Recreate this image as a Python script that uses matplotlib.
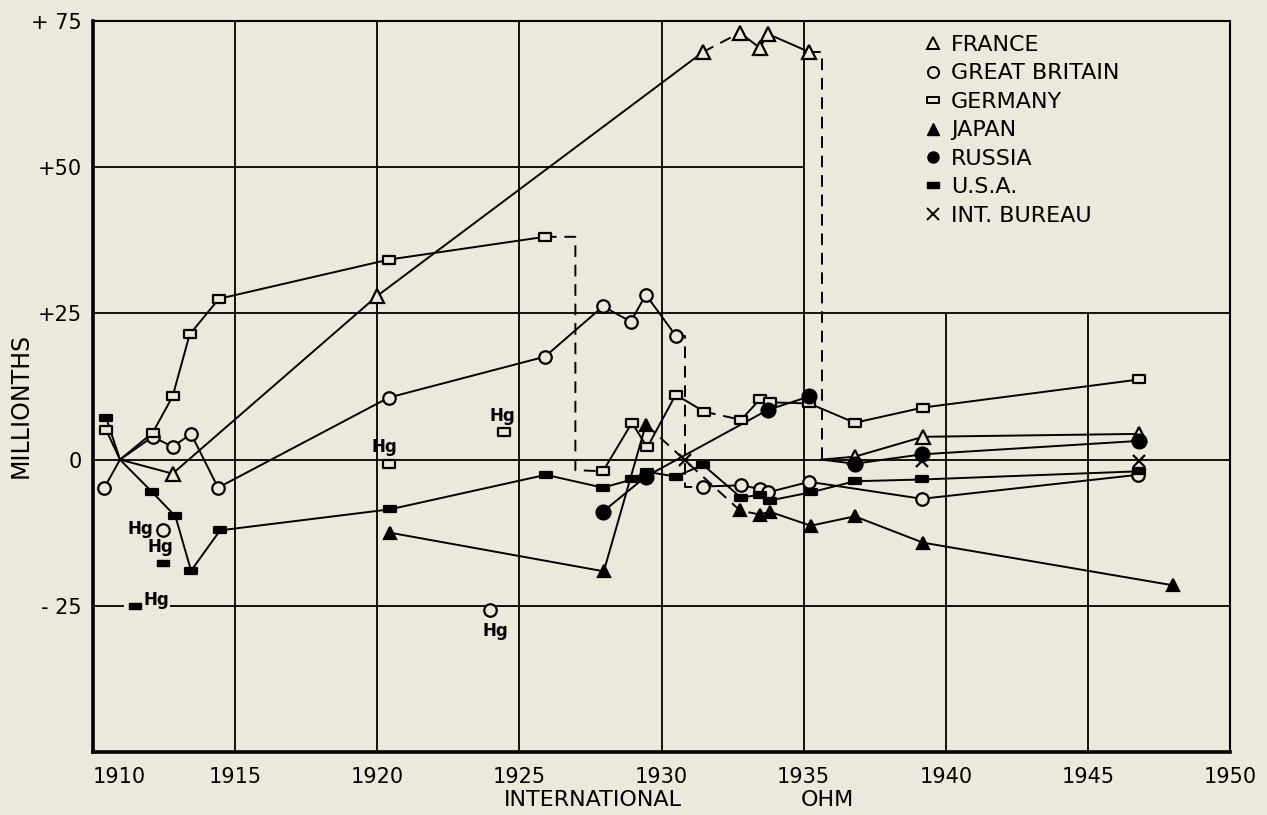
import matplotlib
matplotlib.use("Agg")
import matplotlib.pyplot as plt
import numpy as np
from matplotlib.lines import Line2D
from matplotlib.path import Path

# ---- data (millionths vs year) ----
# segment styles: '-' solid, '--' dashed, per segment between consecutive points
france_x = [1910.95, 1912.8, 1920.0, 1931.46, 1932.76, 1933.46, 1933.74, 1935.2, 1935.63, 1935.63, 1936.8, 1939.2, 1946.8]
france_y = [0, -2.4, 28.0, 69.7, 73.0, 70.4, 72.8, 69.7, 69.7, 0, 0.5, 3.9, 4.4]
france_seg = ['-', '-', '-', '--', '-', '-', '-', '--', '--', '-', '-', '-']
france_mark = [0, 1, 1, 1, 1, 1, 1, 1, 0, 0, 1, 1, 1]

britain_x = [1910.4, 1910.95, 1912.1, 1912.8, 1913.45, 1914.4, 1920.4, 1925.9, 1927.94, 1928.92, 1929.45, 1930.5,
             1930.81, 1930.81, 1931.46, 1932.8, 1933.46, 1933.74, 1935.2, 1939.16, 1946.76]
britain_y = [-4.8, 0, 3.9, 2.2, 4.4, -4.8, 10.6, 17.6, 26.2, 23.6, 28.2, 21.2,
             21.2, -4.6, -4.6, -4.4, -5.0, -5.6, -3.8, -6.7, -2.6]
britain_seg = ['-'] * 11 + ['--', '--', '--'] + ['-'] * 6
britain_mark = [1, 0, 1, 1, 1, 1, 1, 1, 1, 1, 1, 1, 0, 0, 1, 1, 1, 1, 1, 1, 1]

germany_x = [1910.46, 1910.95, 1912.1, 1912.8, 1913.4, 1914.43, 1920.4, 1925.9, 1926.97, 1926.97, 1927.94,
             1928.96, 1929.5, 1930.5, 1931.5, 1932.8, 1933.46, 1933.8, 1935.2, 1936.8, 1939.2, 1946.8]
germany_y = [5.1, 0, 4.6, 10.8, 21.4, 27.5, 34.2, 38.1, 38.1, -1.8, -2.0,
             6.3, 2.1, 11.1, 8.2, 6.8, 10.3, 9.8, 9.6, 6.3, 8.9, 13.7]
germany_seg = ['-'] * 7 + ['--', '--', '--'] + ['-', '-', '-', '-', '--'] + ['-'] * 6
germany_mark = [1, 0, 1, 1, 1, 1, 1, 1, 0, 0, 1, 1, 1, 1, 1, 1, 1, 1, 1, 1, 1, 1]

japan_x = [1920.45, 1927.97, 1929.45, 1932.76, 1933.46, 1933.8, 1935.25, 1936.8, 1939.2, 1948.0]
japan_y = [-12.5, -19.1, 6.0, -8.7, -9.4, -8.9, -11.3, -9.7, -14.2, -21.5]
japan_seg = ['-', '-', '--', '--', '-', '-', '-', '-', '-']
japan_mark = [1] * 10

russia_x = [1927.94, 1929.45, 1933.74, 1935.2, 1935.63, 1936.8, 1939.16, 1946.8]
russia_y = [-8.9, -2.9, 8.5, 10.8, 0, -0.7, 0.9, 3.2]
russia_seg = ['-', '-', '-', '', '-', '-', '-']
russia_mark = [1, 1, 1, 1, 0, 1, 1, 1]

usa_x = [1910.46, 1910.95, 1912.07, 1912.9, 1913.45, 1914.47, 1920.45, 1925.93, 1927.94, 1928.96, 1929.5,
         1930.5, 1931.46, 1932.8, 1933.46, 1933.8, 1935.25, 1936.8, 1939.16, 1946.8]
usa_y = [7.2, 0, -5.5, -9.7, -19.0, -12.1, -8.5, -2.6, -4.8, -3.4, -2.1,
         -2.9, -0.9, -6.5, -6.0, -7.0, -5.6, -3.7, -3.4, -2.0]
usa_seg = ['-'] * 19
usa_mark = [1, 0] + [1] * 18

bureau_x = [1930.81, 1939.16, 1946.8]
bureau_y = [0, -0.3, -0.3]

# mercury standard points (labelled "Hg")
hg_britain_x = [1912.46, 1923.96]
hg_britain_y = [-12.1, -25.8]
hg_usa_x = [1912.46, 1911.48]
hg_usa_y = [-17.6, -25.0]
hg_germany_x = [1920.4, 1924.46]
hg_germany_y = [-0.7, 4.8]

legend_names = ["FRANCE", "GREAT BRITAIN", "GERMANY", "JAPAN", "RUSSIA", "U.S.A.", "INT. BUREAU"]
x_ticks = [1910, 1915, 1920, 1925, 1930, 1935, 1940, 1945, 1950]
y_ticks = [-25, 0, 25, 50, 75]
y_tick_labels = ["- 25", "0", "+25", "+50", "+ 75"]

BG = "#ece8dc"
LW = 1.4
rect = Path([(-1, -0.6), (1, -0.6), (1, 0.6), (-1, 0.6), (-1, -0.6)],
            [Path.MOVETO, Path.LINETO, Path.LINETO, Path.LINETO, Path.CLOSEPOLY])

fig = plt.figure(figsize=(12.67, 8.15), dpi=100, facecolor=BG)
ax = fig.add_axes([0.0734, 0.0773, 0.8974, 0.8969], facecolor=BG)
ax.set_xlim(1910, 1950)
ax.set_ylim(-50, 75)

# grid (legend corner left clear, as in the original)
for yr in [1915, 1920, 1925, 1930, 1935]:
    ax.axvline(yr, color="k", lw=1.3, zorder=1)
ax.vlines([1940, 1945], -50, 25, color="k", lw=1.3, zorder=1)
ax.hlines(50, 1910, 1935, color="k", lw=1.3, zorder=1)
ax.hlines([25, 0], 1910, 1950, color="k", lw=1.3, zorder=1)
ax.hlines([-25, -25], [1910, 1912.7], [1911.1, 1950], color="k", lw=1.3, zorder=1)

for side in ["left", "bottom"]:
    ax.spines[side].set_linewidth(2.6)
for side in ["top", "right"]:
    ax.spines[side].set_linewidth(1.5)


def draw(x, y, seg, mark, marker, ms, filled):
    x = np.array(x)
    y = np.array(y)
    # join consecutive segments of same style so dashes run round corners
    i = 0
    while i < len(seg):
        j = i
        while j + 1 < len(seg) and seg[j + 1] == seg[i]:
            j += 1
        if seg[i] == '-':
            ax.plot(x[i:j + 2], y[i:j + 2], color="k", lw=LW, zorder=2)
        elif seg[i] == '--':
            ax.plot(x[i:j + 2], y[i:j + 2], color="k", lw=LW, ls=(0, (6, 4)), zorder=2)
        i = j + 1
    m = np.array(mark, dtype=bool)
    ax.plot(x[m], y[m], ls="none", marker=marker, ms=ms, mec="k", mew=1.6,
            mfc="k" if filled else BG, zorder=3)


draw(france_x, france_y, france_seg, france_mark, "^", 10, False)
draw(britain_x, britain_y, britain_seg, britain_mark, "o", 9, False)
draw(germany_x, germany_y, germany_seg, germany_mark, rect, 9, False)
draw(japan_x, japan_y, japan_seg, japan_mark, "^", 9, True)
draw(russia_x, russia_y, russia_seg, russia_mark, "o", 10, True)
draw(usa_x, usa_y, usa_seg, usa_mark, rect, 8, True)
ax.plot(bureau_x, bureau_y, ls="none", marker="x", ms=9, mew=1.6, color="k", zorder=3)

ax.plot(hg_britain_x, hg_britain_y, ls="none", marker="o", ms=9, mec="k", mew=1.6, mfc=BG, zorder=3)
ax.plot(hg_usa_x, hg_usa_y, ls="none", marker=rect, ms=8, mec="k", mfc="k", zorder=3)
ax.plot(hg_germany_x, hg_germany_y, ls="none", marker=rect, ms=9, mec="k", mew=1.6, mfc=BG, zorder=3)

hg_kw = dict(textcoords="offset points", fontsize=12, fontweight="bold", va="center")
ax.annotate("Hg", (hg_britain_x[0], hg_britain_y[0]), xytext=(-7, 1), ha="right", **hg_kw)
ax.annotate("Hg", (hg_britain_x[1], hg_britain_y[1]), xytext=(4, -15), ha="center", **hg_kw)
ax.annotate("Hg", (hg_usa_x[0], hg_usa_y[0]), xytext=(-2, 11), ha="center", **hg_kw)
ax.annotate("Hg", (hg_usa_x[1], hg_usa_y[1]), xytext=(6, 4), ha="left", **hg_kw)
ax.annotate("Hg", (hg_germany_x[0], hg_germany_y[0]), xytext=(-3, 12), ha="center", **hg_kw)
ax.annotate("Hg", (hg_germany_x[1], hg_germany_y[1]), xytext=(-1, 11), ha="center", **hg_kw)

ax.set_xticks(x_ticks)
ax.set_xticklabels([str(t) for t in x_ticks])
ax.set_yticks(y_ticks)
ax.set_yticklabels(y_tick_labels)
ax.tick_params(axis="both", length=0, labelsize=15)
ax.tick_params(axis="x", pad=11)
ax.tick_params(axis="y", pad=8)
ax.get_xticklabels()[0].set_horizontalalignment("left")

fig.text(0.016, 0.503, "MILLIONTHS", rotation=90, fontsize=17, ha="center", va="center")
fig.text(0.468, 0.018, "INTERNATIONAL", fontsize=16, ha="center", va="center")
fig.text(0.653, 0.018, "OHM", fontsize=16, ha="center", va="center")

handles = [
    Line2D([], [], ls="none", marker="^", ms=8, mec="k", mfc=BG, mew=1.4),
    Line2D([], [], ls="none", marker="o", ms=8, mec="k", mfc=BG, mew=1.4),
    Line2D([], [], ls="none", marker=rect, ms=8, mec="k", mfc=BG, mew=1.4),
    Line2D([], [], ls="none", marker="^", ms=8, mec="k", mfc="k"),
    Line2D([], [], ls="none", marker="o", ms=8, mec="k", mfc="k"),
    Line2D([], [], ls="none", marker=rect, ms=8, mec="k", mfc="k"),
    Line2D([], [], ls="none", marker="x", ms=8, mew=1.4, color="k"),
]
ax.legend(handles, legend_names, loc="upper left", bbox_to_anchor=(922 / 1267, 1 - 35 / 815),
          bbox_transform=fig.transFigure, frameon=False, fontsize=16, labelspacing=0.38,
          handlelength=1.0, handletextpad=0.3, borderaxespad=0, borderpad=0)

fig.savefig("out.png", dpi=100, facecolor=BG)
